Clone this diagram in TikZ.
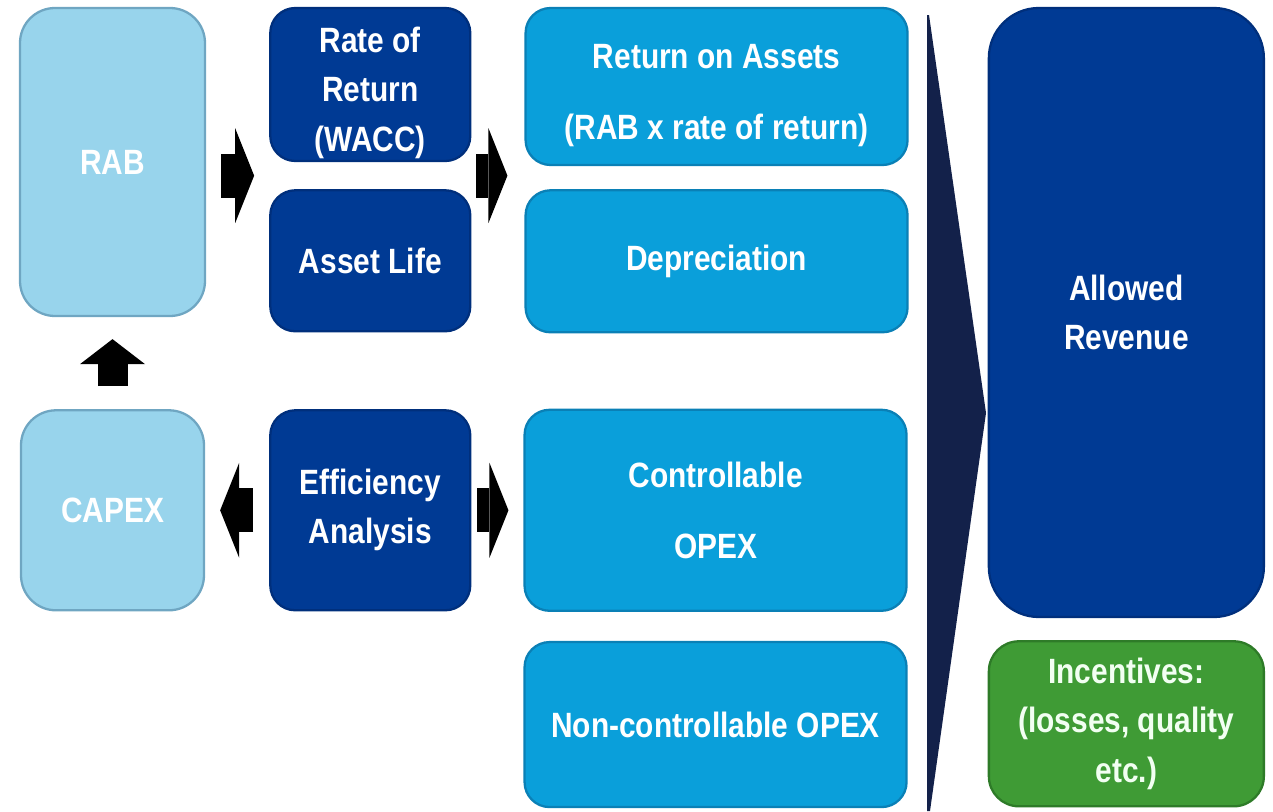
\documentclass[tikz,border=0pt]{standalone}
\usepackage{fontspec}
\setmainfont{Liberation Sans}[FakeStretch=0.85]
\usepackage{xcolor}
\usepackage{tikz}
\usetikzlibrary{arrows.meta,positioning,calc}

\definecolor{lightfill}{HTML}{98D4EC}
\definecolor{lightedge}{HTML}{6FA6C2}
\definecolor{darkfill}{HTML}{003A94}
\definecolor{darkedge}{HTML}{002F7C}
\definecolor{midfill}{HTML}{0A9FDA}
\definecolor{midedge}{HTML}{0A80B6}
\definecolor{greenfill}{HTML}{3F9B35}
\definecolor{greenedge}{HTML}{2E7B28}
\definecolor{navy}{HTML}{13214A}

% taller first line, pushes the text a little lower in its box
\newcommand{\topstrut}{\rule{0pt}{24pt}}

\begin{document}
\begin{tikzpicture}[
				boxfont/.style={font=\fontsize{20}{28}\selectfont\bfseries, text=white, align=center},
				lightbox/.style={rectangle, draw=lightedge, fill=lightfill, line width=1.3pt,
					rounded corners=0.7cm, boxfont},
				darkbox/.style={rectangle, draw=darkedge, fill=darkfill, line width=1.3pt,
					rounded corners=0.5cm, minimum width=4cm, boxfont},
				midbox/.style={rectangle, draw=midedge, fill=midfill, line width=1.3pt,
					rounded corners=0.5cm, minimum width=7.64cm, boxfont},
				revbox/.style={rectangle, draw=darkedge, fill=darkfill, line width=1.3pt,
					rounded corners=1cm, minimum width=5.5cm, boxfont},
				greenbox/.style={rectangle, draw=greenedge, fill=greenfill, line width=1.3pt,
					rounded corners=0.6cm, minimum width=5.5cm, boxfont, text=green!5},
				fat/.style={line width=0.88cm, black,
					-{Triangle[length=0.38cm, width=1.9cm, line width=0pt]}},
				fatup/.style={line width=0.6cm, black,
					-{Triangle[length=0.5cm, width=1.3cm, line width=0pt]}}
				]
				
				\useasboundingbox (0,0) rectangle (25.46,-16.22);
				
				% Column 1: asset base and capital spending
				\node[lightbox, minimum width=3.7cm, minimum height=6.16cm] (rab) at (2.25,-3.24) {RAB};
				\node[lightbox, minimum width=3.66cm, minimum height=4cm, below=1.84cm of rab] (capex) {CAPEX};
				
				% Column 2: parameters
				\node[darkbox, minimum height=3.06cm, inner ysep=0pt, right=1.26cm of rab.north east,
				anchor=north west] (rate) {\topstrut Rate of\\Return\\(WACC)};
				\node[darkbox, minimum height=2.82cm, below=0.54cm of rate] (life) {Asset Life};
				\node[darkbox, minimum height=4cm, right=1.28cm of capex] (eff) {Efficiency\\Analysis};
				
				% Column 3: revenue building blocks
				\node[midbox, minimum height=3.14cm, right=1.06cm of rate.north east, anchor=north west] (ret)
				{\topstrut Return on Assets\\[12pt](RAB x rate of return)};
				\node[midbox, minimum height=2.84cm, below=0.46cm of ret] (dep) {Depreciation};
				\node[midbox, minimum height=4.02cm, right=1.04cm of eff] (ctrl) {Controllable\\[12pt]OPEX};
				\node[midbox, minimum height=3.3cm, below=0.58cm of ctrl] (nonctrl) {Non-controllable OPEX};
				
				% Column 4: result
				\node[revbox, minimum height=12.18cm, right=1.58cm of ret.north east, anchor=north west] (allowed)
				{Allowed\\Revenue};
				\node[greenbox, minimum height=3.3cm, below=0.44cm of allowed] (incent)
				{Incentives:\\(losses, quality\\etc.)};
				
				% Summing wedge between the blocks and the result
				\fill[navy] (18.54,-0.3) -- (18.58,-0.3) -- (19.72,-8.26) -- (18.6,-16.22)
				-- (18.54,-16.22) -- cycle;
				
				% Block arrows
				\coordinate (gap) at ($(rate.south)!0.5!(life.north)$);
				\draw[fat, shorten <=0.3cm, shorten >=0.3cm] (rab.east |- gap) -- (rate.west |- gap);
				\draw[fat, shorten <=0.1cm, shorten >=0.34cm] (rate.east |- gap) -- (ret.west |- gap);
				\draw[fat, shorten <=0.32cm, shorten >=0.3cm] (eff) -- (capex);
				\draw[fat, shorten <=0.12cm, shorten >=0.3cm] (eff) -- (ctrl);
				\draw[fatup, shorten <=0.46cm, shorten >=0.44cm] (capex) -- (rab);
				
			\end{tikzpicture}
\end{document}
